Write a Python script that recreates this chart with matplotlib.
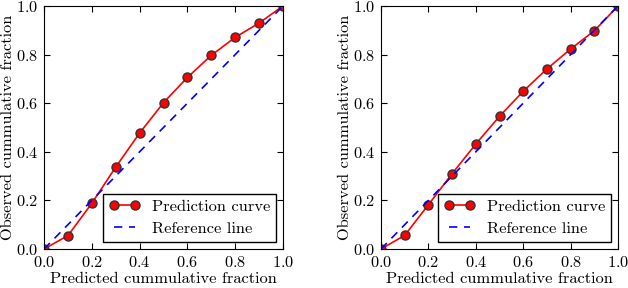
import numpy as np
import matplotlib
matplotlib.use('Agg')
import matplotlib.pyplot as plt

# data
X = [0.0, 0.1, 0.2, 0.3, 0.4, 0.5, 0.6, 0.7, 0.8, 0.9, 1.0]
Y_left = [0.0, 0.055, 0.188, 0.337, 0.477, 0.602, 0.706, 0.797, 0.871, 0.930, 1.0]
Y_right = [0.0, 0.056, 0.182, 0.310, 0.432, 0.546, 0.649, 0.741, 0.823, 0.898, 1.0]
Ref = [0.0, 1.0]

plt.rcParams['font.family'] = 'serif'
plt.rcParams['font.serif'] = ['cmr10']
plt.rcParams['mathtext.fontset'] = 'cm'
plt.rcParams['axes.formatter.use_mathtext'] = True
plt.rcParams['font.size'] = 11.8
plt.rcParams['xtick.direction'] = 'in'
plt.rcParams['ytick.direction'] = 'in'
plt.rcParams['xtick.top'] = True
plt.rcParams['ytick.right'] = True

fig = plt.figure(figsize=(6.28, 2.88), dpi=100)
ax1 = fig.add_axes([44 / 628, 1 - 249 / 288, 239 / 628, 243 / 288])
ax2 = fig.add_axes([381 / 628, 1 - 249 / 288, 237 / 628, 243 / 288])

for ax, Y in [(ax1, Y_left), (ax2, Y_right)]:
    ax.plot(X, Y, color='red', lw=1.2, marker='o', markersize=6.5,
            markerfacecolor='red', markeredgecolor='#333333', markeredgewidth=1,
            label='Prediction curve')
    ax.plot(Ref, Ref, color='blue', ls='--', lw=1.2, dashes=(5, 4), label='Reference line')
    ax.set_xlim(0, 1)
    ax.set_ylim(0, 1)
    ax.set_xticks(np.arange(0, 1.01, 0.2))
    ax.set_yticks(np.arange(0, 1.01, 0.2))
    ax.set_xlabel('Predicted cummulative fraction', labelpad=2)
    ax.set_ylabel('Observed cummulative fraction', labelpad=1)
    ax.tick_params(length=4, width=0.8, pad=4)
    leg = ax.legend(loc='lower right', numpoints=2, fancybox=False, framealpha=1,
                    edgecolor='black', borderaxespad=0.45, handlelength=1.9,
                    labelspacing=0.45, handletextpad=0.7, borderpad=0.35)
    leg.get_frame().set_linewidth(1)

fig.savefig('out.png', dpi=100)
